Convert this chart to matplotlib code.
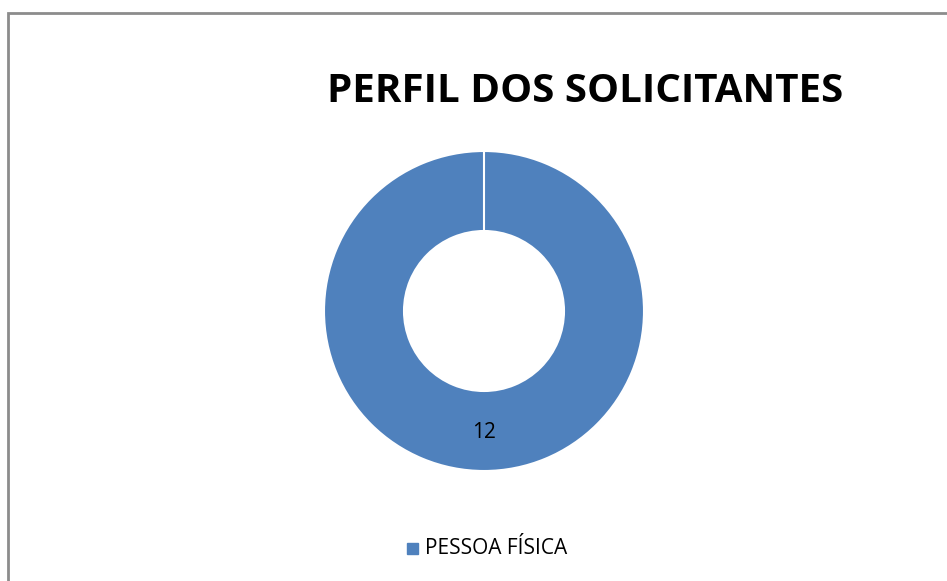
import matplotlib.pyplot as plt
from matplotlib.patches import Rectangle

categorias = ['PESSOA FÍSICA']
valores = [12]
cor = '#4f81bd'

W, H = 947, 581
fig = plt.figure(figsize=(W / 100, H / 100), dpi=100)

# moldura cinza
fig.patches.append(Rectangle((8 / W, -0.05), 1.2, (H - 13) / H + 0.05,
                             transform=fig.transFigure, fill=False,
                             edgecolor='#8c8c8c', linewidth=2))

ax = fig.add_axes([284 / W, 70 / H, 400 / W, 400 / H])
wedges, textos = ax.pie(valores, radius=1, startangle=90, counterclock=False,
                        colors=[cor], labels=None,
                        wedgeprops=dict(width=0.5, edgecolor='white', linewidth=1.5))
# linha branca no inicio da fatia
ax.plot([0, 0], [0.5, 1.0], color='white', linewidth=1.5)
for w, v in zip(wedges, valores):
    ax.text(0, -0.76, str(v), ha='center', va='center', fontsize=15,
            family='Open Sans')
ax.set_xlim(-1.25, 1.25)
ax.set_ylim(-1.25, 1.25)
ax.set_aspect('equal')
ax.axis('off')

fig.text(585 / W, 1 - 92 / H, 'PERFIL DOS SOLICITANTES', ha='center', va='center',
         fontsize=29, fontweight='bold', family='Open Sans')

# legenda
fig.patches.append(Rectangle((407 / W, 1 - 554 / H), 11 / W, 11 / H,
                             transform=fig.transFigure, color=cor))
fig.text(425 / W, 1 - 549 / H, categorias[0], ha='left', va='center',
         fontsize=15, family='Open Sans')

plt.savefig('out.png', dpi=100)
